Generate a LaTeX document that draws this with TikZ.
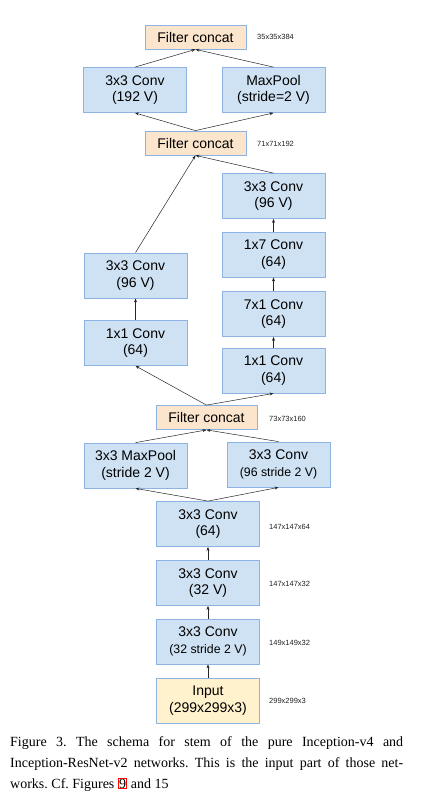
\documentclass[tikz,border=0pt]{standalone}
\usepackage{fontspec}
\setmainfont{Liberation Sans}
\newfontfamily\capfont{Liberation Serif}
\usetikzlibrary{arrows.meta}
\definecolor{bfill}{HTML}{CFE2F3}
\definecolor{bdraw}{HTML}{8DB3E2}
\definecolor{ofill}{HTML}{FCE5CD}
\definecolor{yfill}{HTML}{FFF2CC}
\definecolor{lbl}{HTML}{222222}
\frenchspacing
\begin{document}
\begin{tikzpicture}[x=1pt,y=-1pt,
 box/.style={draw=bdraw, line width=0.8pt, fill=bfill, minimum width=103pt, minimum height=45pt, align=center, inner sep=0pt, font=\fontsize{14}{16.5}\selectfont},
 concat/.style={box, fill=ofill, minimum width=101pt, minimum height=24pt},
 inbox/.style={box, fill=yfill},
 dim/.style={anchor=west, font=\fontsize{7.5}{9}\selectfont, inner sep=0pt, text=lbl},
 captext/.style={anchor=base west, inner sep=0pt, font=\capfont\fontsize{14}{16}\selectfont},
 arr/.style={-{Stealth[length=4pt,width=3pt]}, line width=0.5pt, black!85}]
\path[use as bounding box, fill=white] (0,0) rectangle (436,800);

\node[concat] (c1) at (195.5,37) {Filter concat};
\node[box] (a192) at (135,90) {3x3 Conv\\(192 V)};
\node[box] (mp) at (273.5,90) {MaxPool\\(stride=2 V)};
\node[concat] (c2) at (195.5,143) {Filter concat};
\node[box] (r96) at (273.5,196) {3x3 Conv\\(96 V)};
\node[box] (r17) at (273.5,254.5) {1x7 Conv\\(64)};
\node[box] (l96) at (135.5,275.5) {3x3 Conv\\(96 V)};
\node[box] (r71) at (273.5,314) {7x1 Conv\\(64)};
\node[box] (l11) at (135.5,343) {1x1 Conv\\(64)};
\node[box] (r11) at (273.5,370.5) {1x1 Conv\\(64)};
\node[concat] (c3) at (206.5,417.5) {Filter concat};
\node[box] (mp3) at (135.5,465.5) {3x3 MaxPool\\(stride 2 V)};
\node[box] (cv3) at (278.5,464.5) {3x3 Conv\\{\fontsize{12.3}{14}\selectfont(96 stride 2 V)}};
\node[box] (c64) at (208,524) {3x3 Conv\\(64)};
\node[box] (c32) at (208,583) {3x3 Conv\\(32 V)};
\node[box] (c32s) at (208,641.5) {3x3 Conv\\{\fontsize{12.3}{14}\selectfont(32 stride 2 V)}};
\node[inbox] (inp) at (208,700.5) {Input\\(299x299x3)};

\node[dim] (d1) at (257,37) {35x35x384};
\node[dim] (d2) at (257,144) {71x71x192};
\node[dim] (d3) at (269,419) {73x73x160};
\node[dim] (d4) at (269,527) {147x147x64};
\node[dim] (d5) at (269,584) {147x147x32};
\node[dim] (d6) at (269,643) {149x149x32};
\node[dim] (d7) at (269,701) {299x299x3};

\draw[arr] (a192.north) -- (c1.south);
\draw[arr] (mp.north) -- (c1.south);
\draw[arr] (c2.north) -- (a192.south);
\draw[arr] (c2.north) -- (mp.south);
\draw[arr] (l96.north) -- (c2.south);
\draw[arr] (r96.north) -- (c2.south);
\draw[arr] (r17) -- (r96);
\draw[arr] (r71) -- (r17);
\draw[arr] (r11) -- (r71);
\draw[arr] (l11) -- (l96);
\draw[arr] (c3.north) -- (l11.south);
\draw[arr] (c3.north) -- (r11.south);
\draw[arr] (mp3.north) -- (c3.south);
\draw[arr] (cv3.north) -- (c3.south);
\draw[arr] (c64.north) -- (mp3.south);
\draw[arr] (c64.north) -- (cv3.south);
\draw[arr] (c32) -- (c64);
\draw[arr] (c32s) -- (c32);
\draw[arr] (inp) -- (c32s);

\node[captext] (l1) at (10,746) {\makebox[393pt][s]{Figure 3. The schema for stem of the pure Inception-v4 and}};
\node[captext] (l2) at (10,767) {\makebox[393pt][s]{Inception-ResNet-v2 networks. This is the input part of those net-}};
\node[captext] (l3) at (10,788) {works. Cf. Figures {\setlength\fboxsep{0.3pt}\setlength\fboxrule{0.9pt}\fcolorbox{red}{white}{9}} and 15};
\end{tikzpicture}
\end{document}
